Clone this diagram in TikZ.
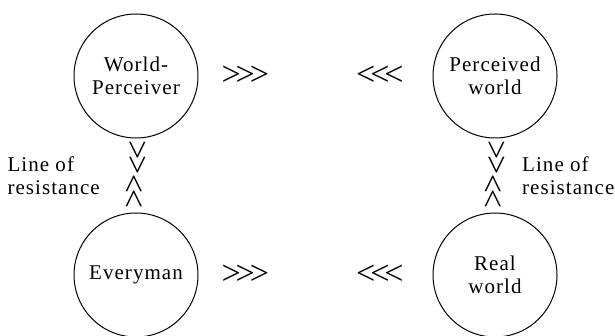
\documentclass[tikz,border=0pt]{standalone}
\usepackage{fontspec}
\setmainfont[LetterSpace=5]{Liberation Serif}
\usepackage{tikz}
\usetikzlibrary{positioning,calc}

\begin{document}
\begin{tikzpicture}[x=1pt, y=1pt, node distance=74pt]
\tikzset{
    world/.style={circle, draw=black, line width=1pt, align=center, minimum size=124pt, inner sep=0pt, font=\fontsize{21}{23}\selectfont},
    chevron/.style={inner sep=0pt, font=\fontsize{34}{34}\selectfont},
    down/.style={chevron, rotate=-90},
    up/.style={chevron, rotate=90},
    note/.style={align=left, inner sep=0pt, font=\fontsize{21}{23}\selectfont}
}
\useasboundingbox (0,0) rectangle (615,-336);
\node[world] (wp) at (136,-76) {World-\\Perceiver};
\node[world, right=234pt of wp] (pw) {Perceived\\world};
\node[world, below=of wp] (em) {Everyman};
\node[world, below=of pw] (rw) {Real\\world};

\path (wp) -- (pw) node[chevron, pos=0.2] {>{}\kern-5pt>{}\kern-5pt>} node[chevron, pos=0.775] {<{}\kern-5pt<{}\kern-5pt<};
\path (em) -- (rw) node[chevron, pos=0.2] {>{}\kern-5pt>{}\kern-5pt>} node[chevron, pos=0.775] {<{}\kern-5pt<{}\kern-5pt<};
\path (wp) -- (em) node[down, pos=0.26] {>{}\kern-4pt>} node[up, pos=0.72] {>{}\kern-4pt>}
    node[note, pos=0.5, left=36pt] {Line of\\resistance};
\path (pw) -- (rw) node[down, pos=0.26] {>{}\kern-4pt>} node[up, pos=0.72] {>{}\kern-4pt>}
    node[note, pos=0.5, right=27pt] {Line of\\resistance};
\end{tikzpicture}
\end{document}
